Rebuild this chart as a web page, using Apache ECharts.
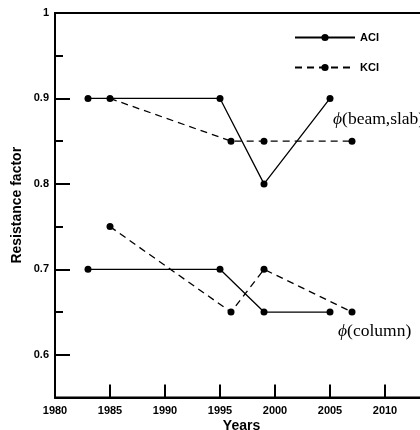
<!DOCTYPE html>
<html>
<head>
<meta charset="utf-8">
<script src="https://cdn.jsdelivr.net/npm/echarts@6/dist/echarts.min.js"></script>
<style>
  html, body { margin: 0; padding: 0; background: #fff; }
  #main { width: 420px; height: 430px; }
</style>
</head>
<body>
<div id="main"></div>
<script>
var years = [1983, 1995, 1999, 2005];
var yearsKci = [1985, 1996, 1999, 2007];
var aciBeam = [0.9, 0.9, 0.8, 0.9];
var kciBeam = [0.9, 0.85, 0.85, 0.85];
var aciColumn = [0.7, 0.7, 0.65, 0.65];
var kciColumn = [0.75, 0.65, 0.7, 0.65];
var yMajor = [0.6, 0.7, 0.8, 0.9];
var yMinor = [0.65, 0.75, 0.85, 0.95];
var yLabels = [0.6, 0.7, 0.8, 0.9, 1];
var xTicks = [1985, 1990, 1995, 2000, 2005, 2010];

function pairs(xs, ys) {
    return xs.map(function (x, i) { return [x, ys[i]]; });
}

var dom = document.getElementById('main');
var myChart = echarts.init(dom, null, { renderer: 'canvas' });

var solid = { color: '#000', width: 1.3, type: 'solid' };
var dashed = { color: '#000', width: 1.3, type: [7, 5] };

function makeSeries(name, data, style) {
    return {
        name: name,
        type: 'line',
        data: data,
        symbol: 'circle',
        symbolSize: 7,
        color: '#000',
        itemStyle: { color: '#000' },
        lineStyle: style,
        animation: false
    };
}

var phiText = { fontStyle: 'italic', fontFamily: 'Liberation Serif', fontSize: 17.5 };

var option = {
    backgroundColor: '#fff',
    grid: {
        left: 55, top: 13, width: 385, height: 384.5,
        outerBoundsMode: 'none',
        containLabel: false,
        show: true, borderColor: '#000', borderWidth: 2, backgroundColor: 'transparent'
    },
    legend: {
        data: ['ACI', 'KCI'],
        orient: 'vertical',
        left: 294,
        top: 32,
        padding: 0,
        itemWidth: 60,
        itemHeight: 9,
        itemGap: 19,
        textStyle: { fontFamily: 'Liberation Sans, Arial', fontWeight: 'bold', fontSize: 11, color: '#000' },
        selectedMode: false
    },
    xAxis: {
        type: 'value',
        min: 1980,
        max: 2015,
        interval: 5,
        name: 'Years',
        nameLocation: 'middle',
        nameMoveOverlap: false,
        nameGap: 22,
        nameTextStyle: {
            fontFamily: 'Liberation Sans, Arial', fontWeight: 'bold', fontSize: 14, color: '#000',
            padding: [0, 12, 0, 0]
        },
        axisLine: { lineStyle: { color: '#000', width: 2 } },
        axisTick: { inside: true, length: 13, customValues: xTicks, lineStyle: { color: '#000', width: 2 } },
        axisLabel: {
            margin: 8,
            fontFamily: 'Liberation Sans, Arial', fontWeight: 'bold', fontSize: 11, color: '#000',
            formatter: function (v) { return String(v); }
        },
        splitLine: { show: false }
    },
    yAxis: [
        {
            type: 'value',
            min: 0.55,
            max: 1,
            interval: 0.05,
            name: 'Resistance factor',
            nameLocation: 'middle',
            nameMoveOverlap: false,
            nameGap: 31,
            nameTextStyle: { fontFamily: 'Liberation Sans, Arial', fontWeight: 'bold', fontSize: 14, color: '#000' },
            axisLine: { lineStyle: { color: '#000', width: 2 } },
            axisTick: { inside: true, length: 15, customValues: yMajor, lineStyle: { color: '#000', width: 2 } },
            axisLabel: {
                customValues: yLabels,
                margin: 6,
                fontFamily: 'Liberation Sans, Arial', fontWeight: 'bold', fontSize: 11, color: '#000',
                formatter: function (v) { return Math.abs(v - 1) < 1e-6 ? '1' : v.toFixed(1); }
            },
            splitLine: { show: false }
        },
        {
            type: 'value',
            min: 0.55,
            max: 1,
            interval: 0.05,
            position: 'left',
            axisLine: { show: false },
            axisTick: { inside: true, length: 8, customValues: yMinor, lineStyle: { color: '#000', width: 2 } },
            axisLabel: { show: false },
            splitLine: { show: false }
        }
    ],
    graphic: [
        {
            type: 'text', left: 333, top: 110,
            style: {
                text: '{i|ϕ}(beam,slab)',
                fontFamily: 'Liberation Serif, Times New Roman', fontSize: 17.5, fill: '#000',
                rich: { i: phiText }
            }
        },
        {
            type: 'text', left: 338, top: 322,
            style: {
                text: '{i|ϕ}(column)',
                fontFamily: 'Liberation Serif, Times New Roman', fontSize: 17.5, fill: '#000',
                rich: { i: phiText }
            }
        }
    ],
    series: [
        makeSeries('ACI', pairs(years, aciBeam), solid),
        makeSeries('KCI', pairs(yearsKci, kciBeam), dashed),
        makeSeries('ACI', pairs(years, aciColumn), solid),
        makeSeries('KCI', pairs(yearsKci, kciColumn), dashed)
    ]
};

if (option && typeof option === 'object') {
    myChart.setOption(option);
}

window.addEventListener('resize', myChart.resize);
</script>
</body>
</html>
